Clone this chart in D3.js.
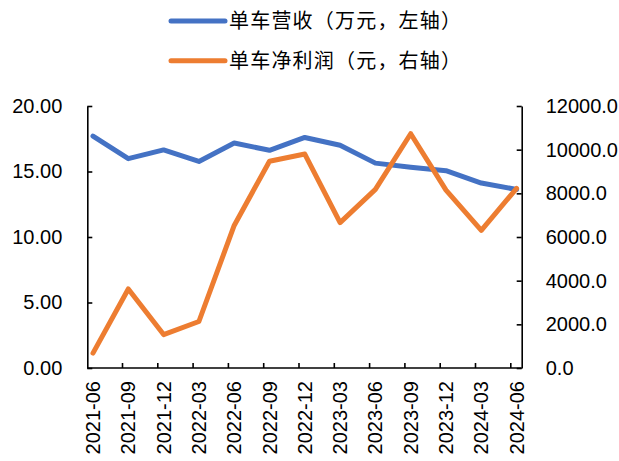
<!DOCTYPE html>
<html>
<head>
<meta charset="utf-8">
<script src="https://cdn.jsdelivr.net/npm/d3@7"></script>
<style>
  html, body { margin: 0; padding: 0; background: #fff; }
  svg { display: block; }
  text { font-family: "Liberation Sans", Arial, sans-serif; fill: #000; }
  .cjk { font-family: "Noto Sans CJK SC", sans-serif; }
</style>
</head>
<body>
<svg id="chart" width="619" height="461"></svg>
<script>
// Quarterly periods
const periods = ["2021-06","2021-09","2021-12","2022-03","2022-06","2022-09","2022-12",
                 "2023-03","2023-06","2023-09","2023-12","2024-03","2024-06"];
// Revenue per vehicle (10k yuan, left axis)
const revenuePerCar = [17.70, 15.98, 16.65, 15.77, 17.17, 16.62, 17.60,
                       17.00, 15.64, 15.32, 15.06, 14.12, 13.63];
// Net profit per vehicle (yuan, right axis)
const profitPerCar = [680, 3620, 1530, 2130, 6530, 9470, 9800,
                      6660, 8180, 10730, 8150, 6300, 8230];
// Axis ticks
const leftTicks = [0, 5, 10, 15, 20];
const rightTicks = [0, 2000, 4000, 6000, 8000, 10000, 12000];
// Legend entries
const seriesNames = ["单车营收（万元，左轴）", "单车净利润（元，右轴）"];
const seriesColors = ["#4472C4", "#ED7D31"];

const svg = d3.select("#chart");
const plot = { left: 87.3, right: 521.7, top: 106, bottom: 368 };

const x = d3.scalePoint().domain(periods).range([93, 516.6]).padding(0);
const yL = d3.scaleLinear().domain([0, 20]).range([plot.bottom, plot.top]);
const yR = d3.scaleLinear().domain([0, 12000]).range([plot.bottom, plot.top]);
const tickShift = -5.8;

const axisColor = "#000";
const g = svg.append("g");

// Left axis
const leftAxis = d3.axisLeft(yL).tickValues(leftTicks).tickSizeInner(-5).tickSizeOuter(0)
  .tickFormat(d3.format(".2f")).tickPadding(25);
const gl = g.append("g").attr("transform", `translate(${plot.left},0)`).call(leftAxis);

// Right axis
const rightAxis = d3.axisRight(yR).tickValues(rightTicks).tickSizeInner(-5).tickSizeOuter(0)
  .tickFormat(d3.format(".1f")).tickPadding(24);
const gr = g.append("g").attr("transform", `translate(${plot.right},0)`).call(rightAxis);

[gl, gr].forEach(a => {
  a.select(".domain").attr("stroke", axisColor).attr("stroke-width", 1.6);
  a.selectAll(".tick line").attr("stroke", axisColor).attr("stroke-width", 1.6);
  a.selectAll(".tick text").attr("font-size", 20).attr("font-family", "Liberation Sans, Arial, sans-serif").attr("fill", "#000");
});

// Bottom category axis
g.append("line")
  .attr("x1", plot.left).attr("x2", plot.right)
  .attr("y1", plot.bottom).attr("y2", plot.bottom)
  .attr("stroke", axisColor).attr("stroke-width", 1.6);
g.selectAll(".xtick").data(periods.slice(1)).enter().append("line")
  .attr("class", "xtick")
  .attr("x1", d => x(d) + tickShift).attr("x2", d => x(d) + tickShift)
  .attr("y1", plot.bottom).attr("y2", plot.bottom - 5)
  .attr("stroke", axisColor).attr("stroke-width", 1.6);
g.selectAll(".xlabel").data(periods).enter().append("text")
  .attr("class", "xlabel")
  .attr("transform", d => `translate(${x(d) + 7},${plot.bottom + 13}) rotate(-90)`)
  .attr("text-anchor", "end")
  .attr("font-size", 20)
  .text(d => d);

// Series lines
const lineL = d3.line().x((d, i) => x(periods[i])).y(d => yL(d));
const lineR = d3.line().x((d, i) => x(periods[i])).y(d => yR(d));

g.append("path").datum(revenuePerCar)
  .attr("d", lineL).attr("fill", "none")
  .attr("stroke", seriesColors[0]).attr("stroke-width", 5)
  .attr("stroke-linejoin", "round").attr("stroke-linecap", "round");
g.append("path").datum(profitPerCar)
  .attr("d", lineR).attr("fill", "none")
  .attr("stroke", seriesColors[1]).attr("stroke-width", 5)
  .attr("stroke-linejoin", "round").attr("stroke-linecap", "round");

// Legend
const legend = svg.append("g");
seriesNames.forEach((name, i) => {
  const ly = 21 + i * 39.7;
  legend.append("line")
    .attr("x1", 171).attr("x2", 225).attr("y1", ly).attr("y2", ly)
    .attr("stroke", seriesColors[i]).attr("stroke-width", 5).attr("stroke-linecap", "round");
  legend.append("text")
    .attr("class", "cjk")
    .attr("x", 229).attr("y", ly).attr("dy", "0.36em")
    .attr("font-size", 20)
    .attr("letter-spacing", "1.2px")
    .text(name);
});
</script>
</body>
</html>
